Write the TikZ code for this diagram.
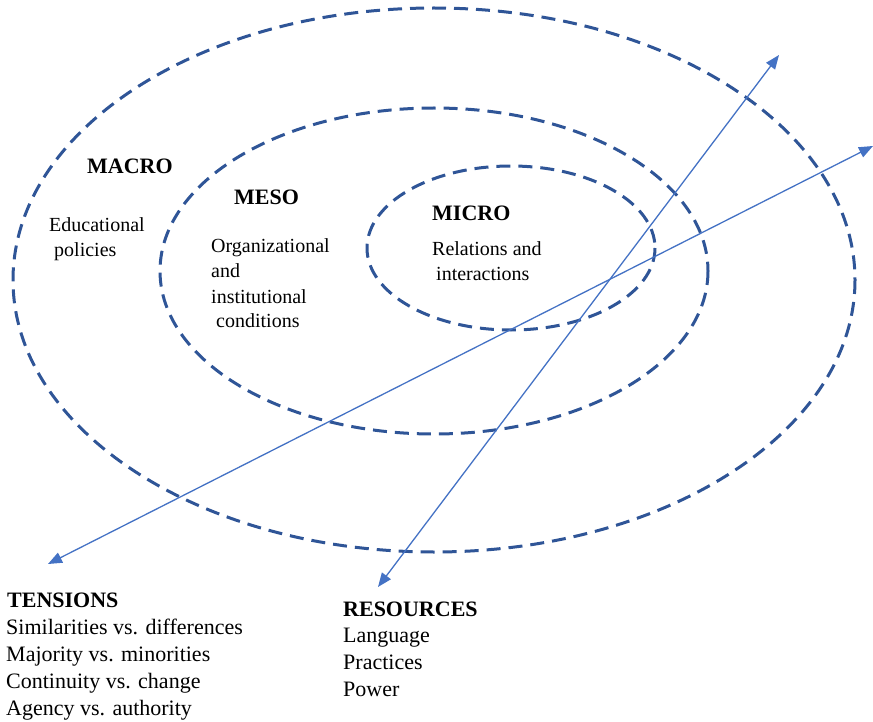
\documentclass[tikz,border=0pt]{standalone}
\usepackage{fontspec}
\setmainfont{Liberation Serif}
\usetikzlibrary{arrows.meta}
\definecolor{ellc}{HTML}{2F5597}
\definecolor{arrc}{HTML}{4472C4}
\tikzset{
  ring/.style={draw=ellc, line width=3pt, dash pattern=on 14pt off 8pt},
  axis/.style={draw=arrc, line width=1.3pt, {Triangle[length=14pt,width=11pt]}-{Triangle[length=14pt,width=11pt]}},
  ttl/.style={anchor=base west, inner sep=0pt, font=\bfseries\fontsize{22}{26}\selectfont},
  txt/.style={anchor=base west, inner sep=0pt, font=\fontsize{20}{24}\selectfont},
  lst/.style={anchor=base west, inner sep=0pt, font=\fontsize{22}{26}\selectfont},
}
\begin{document}
\begin{tikzpicture}[x=1pt,y=-1pt]
\useasboundingbox (0,0) rectangle (873,722);
% ellipses
\draw[ring] (434,280) ellipse [x radius=421, y radius=272];
\draw[ring] (434,271) ellipse [x radius=274, y radius=163];
\draw[ring] (511,248) ellipse [x radius=144, y radius=82];
% axes
\coordinate (r1) at (378,587);
\coordinate (r2) at (779,55);
\coordinate (t1) at (48,564);
\coordinate (t2) at (873,146);
\draw[axis] (r1) -- (r2);
\draw[axis] (t1) -- (t2);
% labels
\node[ttl] (macro) at (87,174) {MACRO};
\node[txt] (edu1) at (49,232) {Educational};
\node[txt] (edu2) at (54,257) {policies};
\node[ttl] (meso) at (234,205) {MESO};
\node[txt] (org1) at (211,252) {Organizational};
\node[txt] (org2) at (211,277) {and};
\node[txt] (org3) at (211,303) {institutional};
\node[txt] (org4) at (216,327) {conditions};
\node[ttl] (micro) at (432,221) {MICRO};
\node[txt] (rel1) at (432,256) {Relations and};
\node[txt] (rel2) at (436,280) {interactions};
% bottom lists
\node[ttl] (tens) at (7,607) {TENSIONS};
\node[lst] (ten1) at (6,634) {Similarities vs. differences};
\node[lst] (ten2) at (6,661) {Majority vs. minorities};
\node[lst] (ten3) at (6,688) {Continuity vs. change};
\node[lst] (ten4) at (6,715) {Agency vs. authority};
\node[ttl] (res) at (343,616) {RESOURCES};
\node[lst] (res1) at (343,642) {Language};
\node[lst] (res2) at (343,669) {Practices};
\node[lst] (res3) at (343,696) {Power};
\end{tikzpicture}
\end{document}
